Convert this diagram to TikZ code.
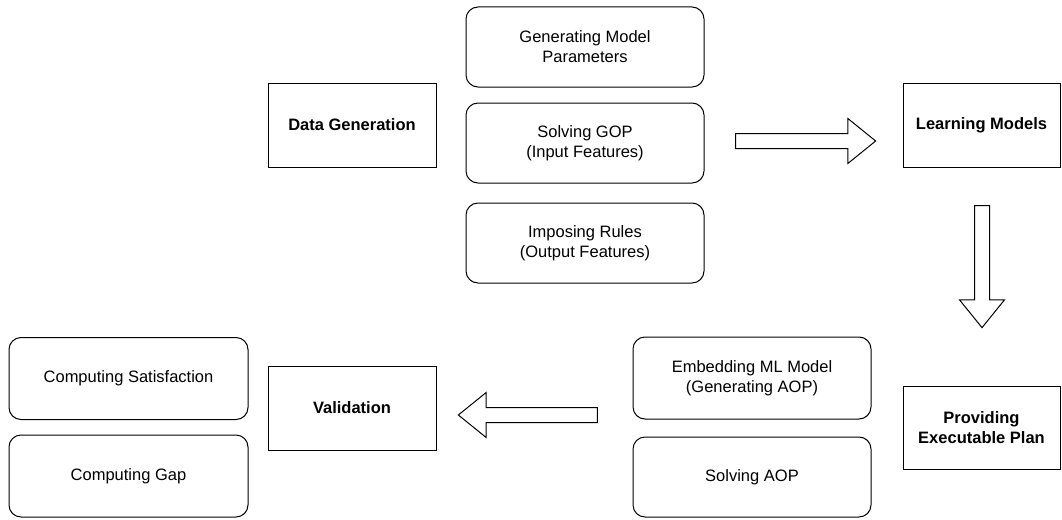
\documentclass[tikz,border=0pt]{standalone}
\usepackage{fontspec}
\setmainfont{Liberation Sans}
\usetikzlibrary{shapes.arrows}

\tikzset{
  stage/.style={draw, line width=1pt, minimum width=168pt, minimum height=84pt,
                align=center, font=\fontsize{16.5}{20}\selectfont\bfseries},
  task/.style={draw, line width=1pt, rounded corners=12pt, minimum width=238pt,
               minimum height=80pt, align=center, font=\fontsize{16.5}{20}\selectfont},
  flow/.style={draw, line width=1pt, single arrow, single arrow head extend=15pt,
               single arrow tip angle=78, inner xsep=0pt, inner ysep=7pt}
}

\begin{document}
\begin{tikzpicture}[x=1pt, y=-1pt]
      \useasboundingbox (0,0) rectangle (1062,519);
      %%%%%%%%%%%%%%%%%%%%%%%%%%%%%%%%%%%%%%%%%%%%%%%
      \node[stage] at (352,125) (datagen) {Data Generation};
      \node[task] at (585,47)  (params) {Generating Model\\Parameters};
      \node[task] at (585,143) (gop)    {Solving GOP\\(Input Features)};
      \node[task] at (585,243) (rules)  {Imposing Rules\\(Output Features)};
      \node[flow, minimum height=140pt] at (801,141) (tolearn) {};
      %%%%%%%%%%%%%%%%%%%%%%%%%%%%%%%%%%%%%%%%%%%%%%%
      \node[stage, minimum width=157pt] at (981.5,125) (learn) {Learning Models};
      \node[flow, minimum height=122pt, rotate=-90] at (982,262) (toplan) {};
      \node[stage, minimum width=157pt, minimum height=83pt] at (981.5,427.5) (plan) {Providing\\Executable Plan};
      %%%%%%%%%%%%%%%%%%%%%%%%%%%%%%%%%%%%%%%%%%%%%%%
      \node[task, minimum height=82pt] at (752,378) (embed) {Embedding ML Model\\(Generating AOP)};
      \node[task] at (752,477) (aop) {Solving AOP};
      \node[flow, minimum height=139pt, rotate=180] at (532.5,415) (tovalid) {};
      %%%%%%%%%%%%%%%%%%%%%%%%%%%%%%%%%%%%%%%%%%%%%%%
      \node[stage] at (352,408) (valid) {Validation};
      \node[task, minimum width=239pt, minimum height=82pt] at (128.5,378.5) (sat) {Computing Satisfaction};
      \node[task, minimum width=239pt, minimum height=82pt] at (128.5,476) (gap) {Computing Gap};
      %%%%%%%%%%%%%%%%%%%%%%%%%%%%%%%%%%%%%%%%%%%%%%%
\end{tikzpicture}
\end{document}
